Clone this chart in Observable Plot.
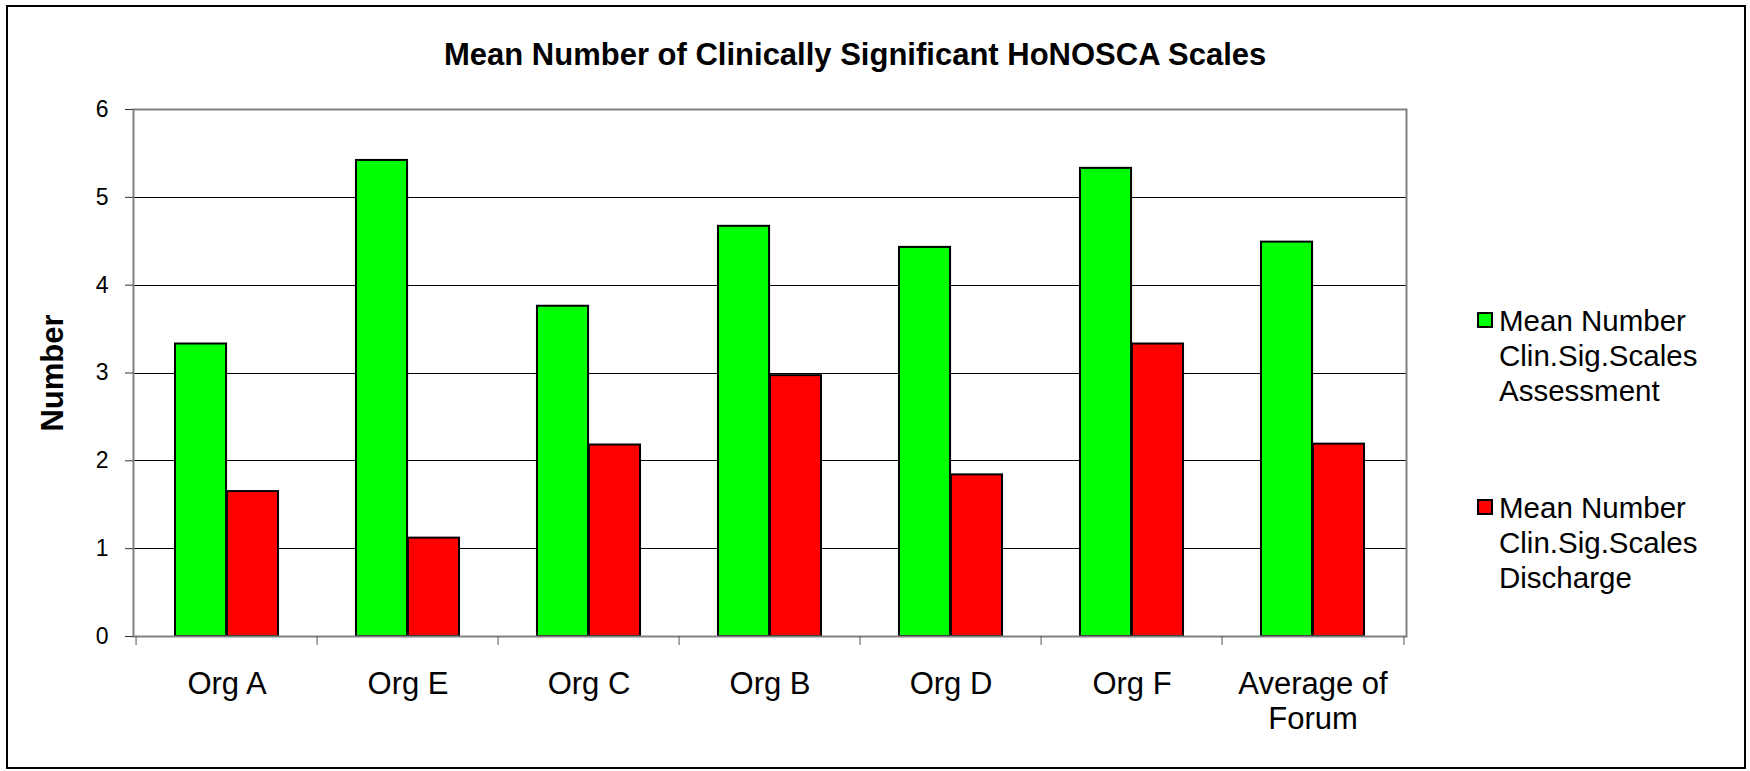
<!DOCTYPE html>
<html><head><meta charset="utf-8">
<script src="https://cdn.jsdelivr.net/npm/d3@7"></script>
<script src="https://cdn.jsdelivr.net/npm/@observablehq/plot@0.6"></script>
<style>
body{margin:0;background:#fff;font-family:"Liberation Sans",Arial,sans-serif;}
#chart{position:relative;width:1750px;height:771px;overflow:hidden;background:#fff;}
#chart svg{position:absolute;left:0;top:0;}
#border{position:absolute;left:6px;top:5px;width:1740px;height:764px;border:2px solid #000;box-sizing:border-box;pointer-events:none}
#title{position:absolute;left:444px;top:38px;font-weight:bold;font-size:31px;line-height:34px;white-space:nowrap;color:#000}
#legend{position:absolute;left:1477px;top:0;width:270px}
.sw{position:absolute;left:0;width:16px;height:16px;border:2px solid #000;box-sizing:border-box}
.lab{position:absolute;left:22px;width:235px;font-size:29.5px;line-height:35px;color:#000}
</style></head><body>
<div id="chart"><div id="border"></div><div id="title"></div><div id="legend"></div></div>
<script>
const titleText = "Mean Number of Clinically Significant HoNOSCA Scales";
const yTitle = "Number";
const categories = ["Org A","Org E","Org C","Org B","Org D","Org F","Average of Forum"];
const seriesNames = ["Mean Number Clin.Sig.Scales Assessment","Mean Number Clin.Sig.Scales Discharge"];
const assessment = [3.33,5.42,3.76,4.67,4.43,5.33,4.49];
const discharge = [1.65,1.12,2.18,2.97,1.84,3.33,2.19];
const seriesColors = ["#00ff00","#ff0000"];
const yTicks = [0,1,2,3,4,5,6];

const data = categories.flatMap((c,i)=>[
  {category:c, series:seriesNames[0], value:assessment[i]},
  {category:c, series:seriesNames[1], value:discharge[i]}
]);

const W=1750,H=771,mL=133,mR=344,mT=109,mB=135;
const bw=(W-mL-mR)/categories.length;
const outer=0.2143*bw, half=0.5*bw;

const chart = Plot.plot({
  width:W,height:H,marginLeft:mL,marginRight:mR,marginTop:mT,marginBottom:mB,
  style:{fontFamily:'"Liberation Sans", Arial, sans-serif',background:"transparent",color:"#000"},
  x:{type:"band",domain:categories,padding:0,axis:null},
  y:{domain:[yTicks[0],yTicks[yTicks.length-1]],axis:null},
  color:{domain:seriesNames,range:seriesColors},
  marks:[
    Plot.gridY(yTicks.slice(1,-1),{stroke:"#000",strokeOpacity:1,strokeWidth:1,shapeRendering:"crispEdges"}),
    Plot.barY(data.filter(d=>d.series===seriesNames[0]),{x:"category",y:"value",fill:"series",stroke:"#000",strokeWidth:2,insetLeft:outer,insetRight:half}),
    Plot.barY(data.filter(d=>d.series===seriesNames[1]),{x:"category",y:"value",fill:"series",stroke:"#000",strokeWidth:2,insetLeft:half,insetRight:outer}),
    Plot.frame({stroke:"#808080",strokeWidth:2}),
    Plot.axisY(yTicks,{tickSize:8,tickPadding:17,fontSize:23,label:null,stroke:"#333",tickFormat:d3.format("d")}),
    Plot.axisX({tickSize:0,tickPadding:33,fontSize:31,label:null,lineHeight:1.13,tickFormat:d=>d.replace(" of "," of\n")}),
    Plot.axisX({tickSize:9,tickFormat:()=>"",label:null,dx:-bw/2,stroke:"#555"}),
    Plot.axisX([categories[categories.length-1]],{tickSize:9,tickFormat:()=>"",label:null,dx:bw/2,stroke:"#555"}),
    Plot.text([yTitle],{frameAnchor:"left",textAnchor:"middle",rotate:-90,dx:-80,fontSize:31,fontWeight:"bold",text:d=>d})
  ]
});
document.getElementById("chart").insertBefore(chart, document.getElementById("border"));
document.getElementById("title").textContent = titleText;

const legend = document.getElementById("legend");
const legendTops = [303, 490];
seriesNames.forEach((name,i)=>{
  const sw=document.createElement("div");
  sw.className="sw"; sw.style.top=(legendTops[i]+9)+"px"; sw.style.background=seriesColors[i];
  const lab=document.createElement("div");
  lab.className="lab"; lab.style.top=legendTops[i]+"px"; lab.textContent=name;
  legend.appendChild(sw); legend.appendChild(lab);
});
</script>
</body></html>
